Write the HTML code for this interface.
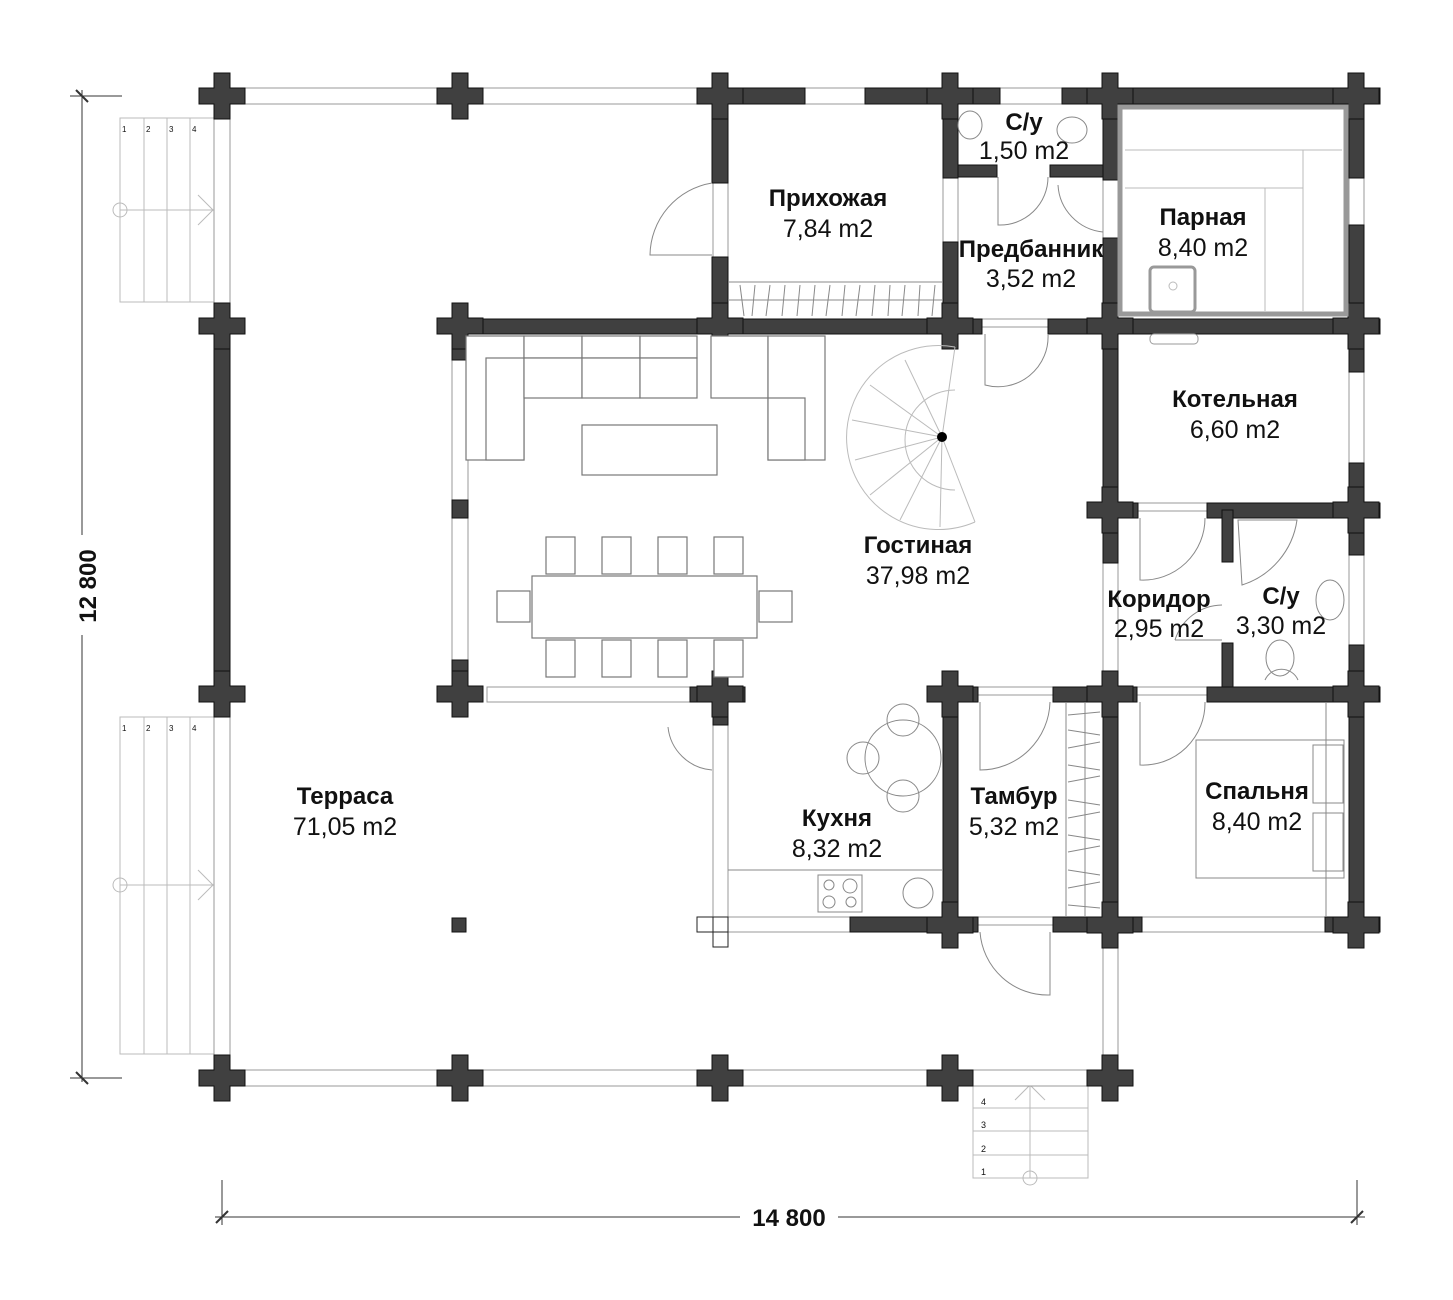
<!DOCTYPE html>
<html><head><meta charset="utf-8"><style>
html,body{margin:0;padding:0;background:#fff;}
svg{display:block;}
.w{fill:#404040;stroke:#111;stroke-width:1;}
.g{fill:#fff;stroke:#999;stroke-width:1;}
.l{fill:none;stroke:#888;stroke-width:1;}
.ll{fill:none;stroke:#bbb;stroke-width:1;}
.f{fill:#fff;stroke:#777;stroke-width:1.2;}
text{font-family:"Liberation Sans",sans-serif;fill:#111;}
.b{font-weight:bold;font-size:24px;}
.n{font-size:25px;}
</style></head><body>
<svg width="1453" height="1300" viewBox="0 0 1453 1300" xmlns="http://www.w3.org/2000/svg">
<defs>
<path id="px" d="M-8 -23h16v15h15v16h-15v15h-16v-15h-15v-16h15z"/>
</defs>
<!-- dimension lines -->
<g stroke="#333" stroke-width="1">
<line x1="82" y1="90" x2="82" y2="1082"/>
<line x1="70" y1="96" x2="122" y2="96"/>
<line x1="70" y1="1078" x2="122" y2="1078"/>
<line x1="76" y1="90" x2="88" y2="102" stroke-width="2"/>
<line x1="76" y1="1072" x2="88" y2="1084" stroke-width="2"/>
<line x1="215" y1="1217" x2="1365" y2="1217"/>
<line x1="222" y1="1180" x2="222" y2="1225"/>
<line x1="1357" y1="1180" x2="1357" y2="1225"/>
<line x1="216" y1="1223" x2="228" y2="1211" stroke-width="2"/>
<line x1="1351" y1="1223" x2="1363" y2="1211" stroke-width="2"/>
</g>
<rect x="60" y="535" width="44" height="100" fill="#fff"/>
<text x="96" y="586" class="b" font-size="24" text-anchor="middle" transform="rotate(-90 96 586)">12 800</text>
<rect x="740" y="1203" width="98" height="28" fill="#fff"/>
<text x="789" y="1226" class="b" font-size="24" text-anchor="middle">14 800</text>

<!-- left stairs -->
<g class="ll">
<rect x="120" y="118" width="94" height="184"/>
<line x1="144" y1="118" x2="144" y2="302"/><line x1="167" y1="118" x2="167" y2="302"/><line x1="190" y1="118" x2="190" y2="302"/>
<line x1="120" y1="210" x2="214" y2="210"/><polyline points="198,195 213,210 198,225"/><circle cx="120" cy="210" r="7"/>
<rect x="120" y="717" width="94" height="337"/>
<line x1="144" y1="717" x2="144" y2="1054"/><line x1="167" y1="717" x2="167" y2="1054"/><line x1="190" y1="717" x2="190" y2="1054"/>
<line x1="120" y1="885" x2="214" y2="885"/><polyline points="198,870 213,885 198,900"/><circle cx="120" cy="885" r="7"/>
</g>
<g>
<text x="122" y="132" fill="#888" font-size="8">1</text><text x="146" y="132" fill="#888" font-size="8">2</text><text x="169" y="132" fill="#888" font-size="8">3</text><text x="192" y="132" fill="#888" font-size="8">4</text>
<text x="122" y="731" fill="#888" font-size="8">1</text><text x="146" y="731" fill="#888" font-size="8">2</text><text x="169" y="731" fill="#888" font-size="8">3</text><text x="192" y="731" fill="#888" font-size="8">4</text>
</g>
<!-- bottom stairs -->
<g class="ll">
<rect x="973" y="1085" width="115" height="93"/>
<line x1="973" y1="1108" x2="1088" y2="1108"/><line x1="973" y1="1131" x2="1088" y2="1131"/><line x1="973" y1="1155" x2="1088" y2="1155"/>
<line x1="1030" y1="1085" x2="1030" y2="1178"/><polyline points="1015,1100 1030,1085 1045,1100"/><circle cx="1030" cy="1178" r="7"/>
</g>
<g><text x="981" y="1105" fill="#666" font-size="9">4</text><text x="981" y="1128" fill="#666" font-size="9">3</text><text x="981" y="1152" fill="#666" font-size="9">2</text><text x="981" y="1175" fill="#666" font-size="9">1</text></g>

<!-- glass walls (thin) -->
<g class="g">
<rect x="240" y="88" width="205" height="16"/>
<rect x="480" y="88" width="220" height="16"/>
<rect x="805" y="88" width="60" height="16"/>
<rect x="1000" y="88" width="62" height="16"/>
<rect x="214" y="118" width="16" height="190"/>
<rect x="214" y="715" width="16" height="340"/>
<rect x="240" y="1070" width="205" height="16"/>
<rect x="480" y="1070" width="220" height="16"/>
<rect x="740" y="1070" width="190" height="16"/>
<rect x="970" y="1070" width="120" height="16"/>
<rect x="1103" y="940" width="15" height="115"/>
<rect x="943" y="178" width="15" height="64"/>
<rect x="1103" y="180" width="15" height="58"/>
<rect x="1349" y="178" width="15" height="47"/>
<rect x="1349" y="372" width="15" height="91"/>
<rect x="1349" y="555" width="15" height="90"/>
<rect x="1103" y="563" width="15" height="108"/>
<rect x="452" y="360" width="16" height="140"/>
<rect x="452" y="518" width="16" height="142"/>
<rect x="487" y="687" width="203" height="15"/>
<rect x="713" y="725" width="15" height="193"/>
<rect x="713" y="183" width="15" height="74"/>
<rect x="728" y="917" width="122" height="15"/>
<rect x="1142" y="917" width="183" height="15"/>
<rect x="978" y="687" width="75" height="8"/>
<rect x="1137" y="687" width="70" height="8"/>
<rect x="1138" y="503" width="69" height="8"/>
<rect x="982" y="319" width="66" height="8"/>
<rect x="978" y="917" width="75" height="8"/>
</g>
<rect x="697" y="917" width="16" height="15" fill="#fff" stroke="#222"/>
<rect x="713" y="917" width="15" height="15" fill="#fff" stroke="#222"/>
<rect x="713" y="932" width="15" height="15" fill="#fff" stroke="#222"/>

<!-- solid walls -->
<g class="w">
<rect x="712" y="88" width="93" height="16"/>
<rect x="865" y="88" width="135" height="16"/>
<rect x="1062" y="88" width="318" height="16"/>
<rect x="712" y="96" width="16" height="87"/>
<rect x="712" y="257" width="16" height="75"/>
<rect x="943" y="96" width="15" height="82"/>
<rect x="943" y="242" width="15" height="90"/>
<rect x="1103" y="96" width="15" height="84"/>
<rect x="1103" y="238" width="15" height="325"/>
<rect x="958" y="165" width="39" height="12"/>
<rect x="1050" y="165" width="53" height="12"/>
<rect x="1349" y="96" width="15" height="82"/>
<rect x="1349" y="225" width="15" height="147"/>
<rect x="1349" y="463" width="15" height="92"/>
<rect x="1349" y="645" width="15" height="295"/>
<rect x="437" y="319" width="545" height="15"/>
<rect x="1048" y="319" width="332" height="15"/>
<rect x="214" y="325" width="16" height="367"/>
<rect x="452" y="325" width="16" height="35"/>
<rect x="452" y="500" width="16" height="18"/>
<rect x="452" y="660" width="16" height="50"/>
<rect x="1088" y="503" width="50" height="15"/>
<rect x="1207" y="503" width="173" height="15"/>
<rect x="1222" y="510" width="11" height="52"/>
<rect x="1222" y="643" width="11" height="50"/>
<rect x="927" y="687" width="51" height="15"/>
<rect x="1053" y="687" width="84" height="15"/>
<rect x="1207" y="687" width="173" height="15"/>
<rect x="943" y="687" width="15" height="258"/>
<rect x="1103" y="671" width="15" height="269"/>
<rect x="850" y="917" width="128" height="15"/>
<rect x="1053" y="917" width="89" height="15"/>
<rect x="1325" y="917" width="55" height="15"/>
<rect x="690" y="687" width="55" height="15"/>
<rect x="713" y="671" width="15" height="54"/>
<rect x="452" y="918" width="14" height="14"/>
</g>
<!-- posts -->
<g class="w">
<use href="#px" x="222" y="96"/><use href="#px" x="460" y="96"/><use href="#px" x="720" y="96"/><use href="#px" x="950" y="96"/><use href="#px" x="1110" y="96"/><use href="#px" x="1356" y="96"/>
<use href="#px" x="222" y="326"/><use href="#px" x="460" y="326"/><use href="#px" x="720" y="326"/><use href="#px" x="950" y="326"/><use href="#px" x="1110" y="326"/><use href="#px" x="1356" y="326"/>
<use href="#px" x="1110" y="510"/><use href="#px" x="1356" y="510"/>
<use href="#px" x="222" y="694"/><use href="#px" x="460" y="694"/><use href="#px" x="720" y="694"/><use href="#px" x="950" y="694"/><use href="#px" x="1110" y="694"/><use href="#px" x="1356" y="694"/>
<use href="#px" x="950" y="925"/><use href="#px" x="1110" y="925"/><use href="#px" x="1356" y="925"/>
<use href="#px" x="222" y="1078"/><use href="#px" x="460" y="1078"/><use href="#px" x="720" y="1078"/><use href="#px" x="950" y="1078"/><use href="#px" x="1110" y="1078"/>
</g>
<!-- sauna -->
<rect x="1120" y="107" width="226" height="207" fill="none" stroke="#999" stroke-width="5"/>
<g class="ll"><line x1="1125" y1="150" x2="1342" y2="150"/><line x1="1303" y1="150" x2="1303" y2="311"/><line x1="1125" y1="188" x2="1303" y2="188"/><line x1="1265" y1="188" x2="1265" y2="311"/></g>
<rect x="1150" y="267" width="45" height="45" rx="4" fill="#fff" stroke="#999" stroke-width="3"/>
<circle cx="1173" cy="286" r="4" class="ll"/>
<rect x="1150" y="334" width="48" height="10" rx="4" fill="#fff" stroke="#999"/>
<!-- doors -->
<g class="l">
<path d="M712 183 A74 74 0 0 0 650 255 L712 255"/>
<path d="M998 177 L998 225 A48 48 0 0 0 1048 177"/>
<path d="M1058 185 A50 50 0 0 0 1103 232"/>
<path d="M985 334 L985 385 A50 50 0 0 0 1048 334"/>
<path d="M1140 518 L1140 580 A62 62 0 0 0 1205 518"/>
<path d="M980 702 L980 770 A70 70 0 0 0 1050 702"/>
<path d="M1140 702 L1140 765 A62 62 0 0 0 1205 702"/>
<path d="M980 932 A68 68 0 0 0 1050 995 L1050 932"/>
<path d="M668 727 A48 48 0 0 0 712 770"/>
<path d="M1175 640 L1222 640"/><path d="M1175 640 A50 50 0 0 1 1222 605"/>
</g>
<!-- wardrobes -->
<g class="l"><line x1="728" y1="282" x2="943" y2="282"/><line x1="728" y1="300" x2="943" y2="300"/>
<line x1="1066" y1="702" x2="1066" y2="917"/><line x1="1085" y1="702" x2="1085" y2="917"/></g>
<g stroke="#888" stroke-width="1">
<line x1="740" y1="285" x2="744" y2="316"/><line x1="755" y1="285" x2="752" y2="316"/><line x1="770" y1="285" x2="766" y2="316"/><line x1="785" y1="285" x2="782" y2="316"/><line x1="800" y1="285" x2="797" y2="316"/><line x1="815" y1="285" x2="812" y2="316"/><line x1="830" y1="285" x2="826" y2="316"/><line x1="845" y1="285" x2="842" y2="316"/><line x1="860" y1="285" x2="856" y2="316"/><line x1="875" y1="285" x2="872" y2="316"/><line x1="890" y1="285" x2="888" y2="316"/><line x1="905" y1="285" x2="902" y2="316"/><line x1="920" y1="285" x2="918" y2="316"/><line x1="935" y1="285" x2="932" y2="316"/>
</g>
<g stroke="#888" stroke-width="1">
<line x1="1068" y1="715" x2="1100" y2="712"/><line x1="1068" y1="730" x2="1100" y2="735"/><line x1="1068" y1="748" x2="1100" y2="742"/><line x1="1068" y1="765" x2="1100" y2="770"/><line x1="1068" y1="782" x2="1100" y2="776"/><line x1="1068" y1="800" x2="1100" y2="805"/><line x1="1068" y1="818" x2="1100" y2="812"/><line x1="1068" y1="835" x2="1100" y2="840"/><line x1="1068" y1="852" x2="1100" y2="846"/><line x1="1068" y1="870" x2="1100" y2="875"/><line x1="1068" y1="888" x2="1100" y2="882"/><line x1="1068" y1="905" x2="1100" y2="908"/>
</g>
<!-- living furniture -->
<g class="f">
<rect x="466" y="336" width="58" height="124"/><rect x="486" y="358" width="38" height="102"/>
<rect x="524" y="336" width="58" height="22"/><rect x="582" y="336" width="58" height="22"/><rect x="640" y="336" width="57" height="22"/>
<rect x="524" y="358" width="58" height="40"/><rect x="582" y="358" width="58" height="40"/><rect x="640" y="358" width="57" height="40"/>
<rect x="711" y="336" width="57" height="62"/><rect x="768" y="336" width="57" height="124"/><rect x="768" y="398" width="37" height="62"/>
<rect x="582" y="425" width="135" height="50"/>
<rect x="532" y="576" width="225" height="62"/>
<rect x="546" y="537" width="29" height="37"/><rect x="602" y="537" width="29" height="37"/><rect x="658" y="537" width="29" height="37"/><rect x="714" y="537" width="29" height="37"/>
<rect x="546" y="640" width="29" height="37"/><rect x="602" y="640" width="29" height="37"/><rect x="658" y="640" width="29" height="37"/><rect x="714" y="640" width="29" height="37"/>
<rect x="497" y="591" width="33" height="31"/><rect x="759" y="591" width="33" height="31"/>
</g>
<!-- spiral stair -->
<g class="ll">
<path d="M955 347 A92 92 0 1 0 975 522"/>
<path d="M955 390 A50 50 0 1 0 955 490"/>
<line x1="942" y1="437" x2="955" y2="347"/><line x1="942" y1="437" x2="905" y2="360"/><line x1="942" y1="437" x2="870" y2="385"/><line x1="942" y1="437" x2="852" y2="420"/><line x1="942" y1="437" x2="855" y2="460"/><line x1="942" y1="437" x2="870" y2="495"/><line x1="942" y1="437" x2="900" y2="520"/><line x1="942" y1="437" x2="940" y2="527"/><line x1="942" y1="437" x2="975" y2="522"/>
</g>
<circle cx="942" cy="437" r="5" fill="#000"/>
<!-- kitchen -->
<g class="l">
<line x1="728" y1="870" x2="943" y2="870"/>
<circle cx="903" cy="758" r="38"/><circle cx="863" cy="758" r="16"/><circle cx="903" cy="720" r="16"/><circle cx="903" cy="796" r="16"/>
<rect x="818" y="875" width="44" height="37"/><circle cx="829" cy="885" r="5"/><circle cx="850" cy="886" r="7"/><circle cx="829" cy="902" r="6"/><circle cx="851" cy="902" r="5"/>
<circle cx="918" cy="893" r="15"/>
</g>
<!-- bedroom -->
<g class="l">
<rect x="1196" y="740" width="148" height="138"/>
<rect x="1313" y="745" width="30" height="58"/><rect x="1313" y="813" width="30" height="58"/>
<line x1="1326" y1="702" x2="1326" y2="917"/>
</g>
<!-- bathroom -->
<g class="l">
<path d="M1238 520 L1297 520 A80 80 0 0 1 1242 585 Z"/>
<ellipse cx="1330" cy="600" rx="14" ry="20"/>
<path d="M1265 680 A18 18 0 0 1 1298 680"/><ellipse cx="1280" cy="658" rx="14" ry="18"/>
<ellipse cx="970" cy="125" rx="12" ry="14"/><ellipse cx="1072" cy="130" rx="15" ry="13"/>
</g>
<!-- labels -->
<g text-anchor="middle">
<text x="828" y="206" class="b">Прихожая</text><text x="828" y="237" class="n">7,84 m2</text>
<text x="1024" y="130" class="b">С/у</text><text x="1024" y="159" class="n">1,50 m2</text>
<text x="1031" y="257" class="b" font-size="21">Предбанник</text><text x="1031" y="287" class="n">3,52 m2</text>
<text x="1203" y="225" class="b">Парная</text><text x="1203" y="256" class="n">8,40 m2</text>
<text x="1235" y="407" class="b">Котельная</text><text x="1235" y="438" class="n">6,60 m2</text>
<text x="918" y="553" class="b">Гостиная</text><text x="918" y="584" class="n">37,98 m2</text>
<text x="1159" y="607" class="b">Коридор</text><text x="1159" y="637" class="n">2,95 m2</text>
<text x="1281" y="604" class="b">С/у</text><text x="1281" y="634" class="n">3,30 m2</text>
<text x="837" y="826" class="b">Кухня</text><text x="837" y="857" class="n">8,32 m2</text>
<text x="1014" y="804" class="b">Тамбур</text><text x="1014" y="835" class="n">5,32 m2</text>
<text x="1257" y="799" class="b">Спальня</text><text x="1257" y="830" class="n">8,40 m2</text>
<text x="345" y="804" class="b">Терраса</text><text x="345" y="835" class="n">71,05 m2</text>
</g>
</svg>
</body></html>
